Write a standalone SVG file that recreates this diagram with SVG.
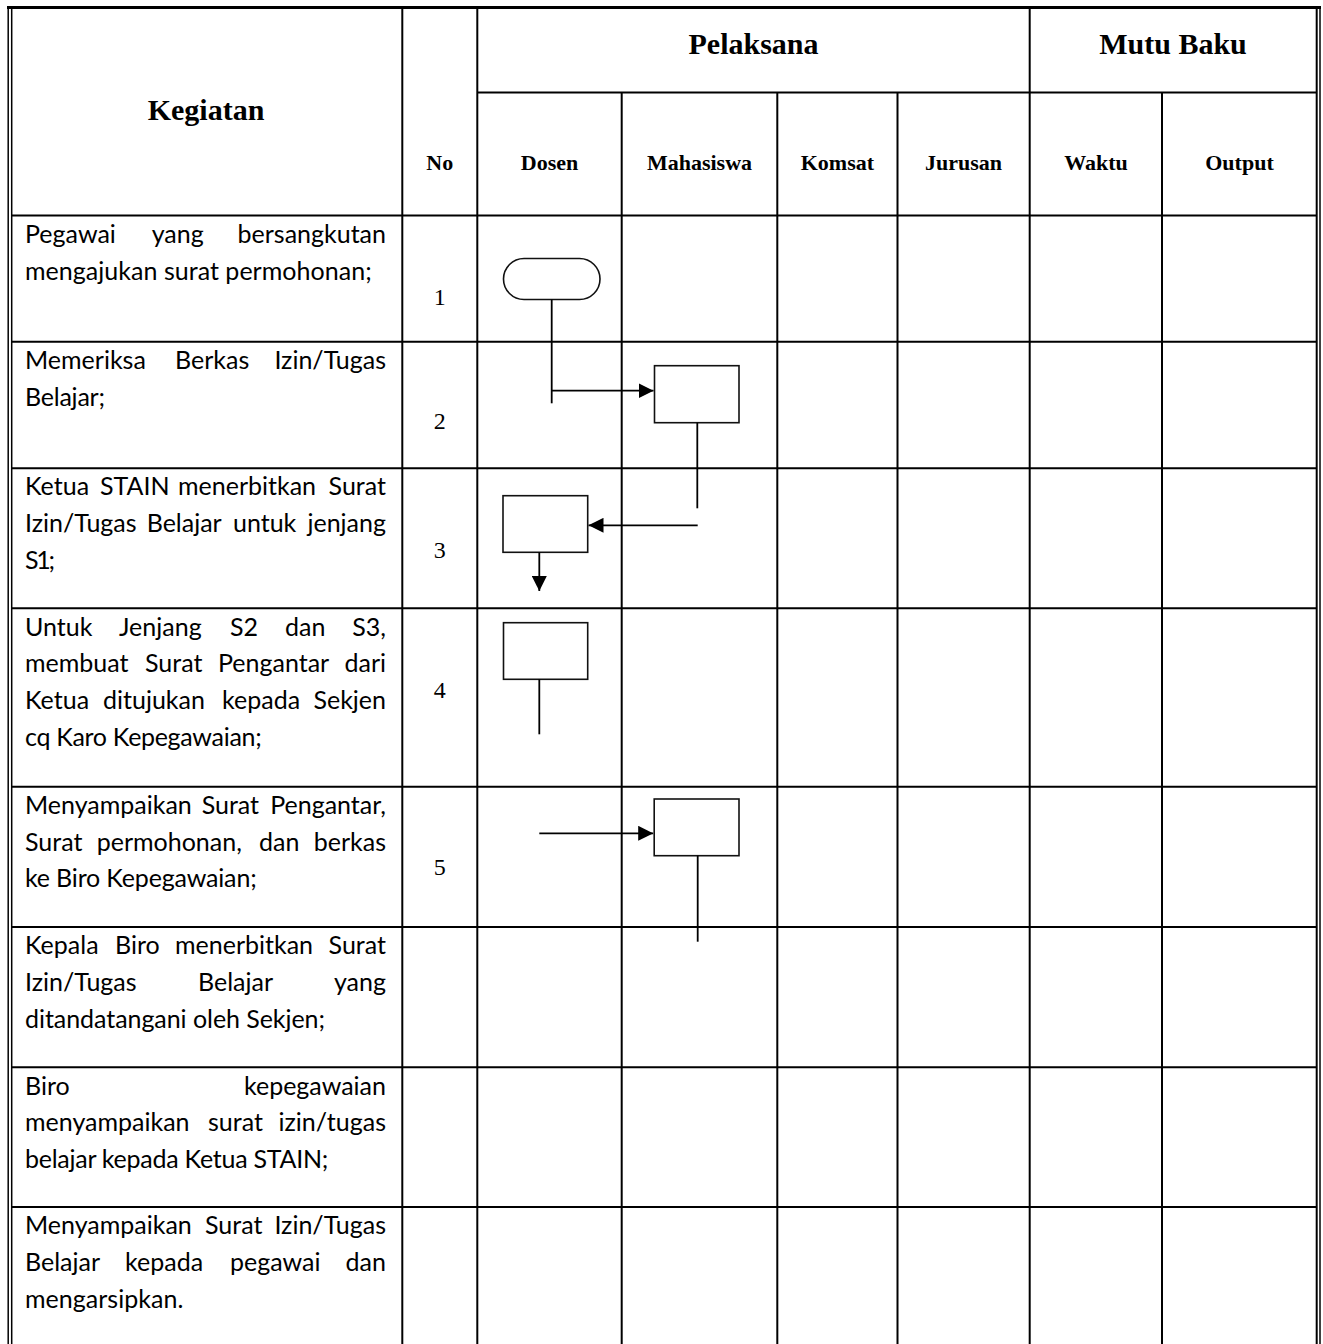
<svg xmlns="http://www.w3.org/2000/svg" width="1323" height="1344" viewBox="0 0 1323 1344">
<style>
.g{stroke:#000;stroke-width:2;fill:none}
.b{font-family:"Lato","Open Sans",sans-serif;font-size:25px;fill:#000}
.r{text-anchor:end}
.h{font-family:"Liberation Serif","DejaVu Serif",serif;font-weight:bold;fill:#000;text-anchor:middle}
.h1{font-size:30px}
.h2{font-size:22px}
.n{font-family:"Liberation Serif","DejaVu Serif",serif;font-size:24px;fill:#000;text-anchor:middle}
.shape{fill:#fff;stroke:#111;stroke-width:1.6}
.c{stroke:#000;stroke-width:1.8;fill:none}
</style>
<defs>
<marker id="ah" markerWidth="15" markerHeight="15" refX="15" refY="7.5" orient="auto" markerUnits="userSpaceOnUse">
<path d="M0,0 L15,7.5 L0,15 z" fill="#000"/>
</marker>
</defs>
<rect width="1323" height="1344" fill="#fff"/>
<g id="grid">
<line x1="7" y1="7.5" x2="1321" y2="7.5" stroke="#000" stroke-width="3"/>
<line x1="8.2" y1="6" x2="8.2" y2="1344" stroke="#000" stroke-width="1.5"/>
<line x1="11.7" y1="9" x2="11.7" y2="1344" stroke="#000" stroke-width="1.5"/>
<line x1="1316.7" y1="9" x2="1316.7" y2="1344" stroke="#000" stroke-width="2"/>
<line x1="1320" y1="6" x2="1320" y2="1344" stroke="#000" stroke-width="1.5"/>
<line class="g" x1="402.3" y1="9" x2="402.3" y2="1344"/>
<line class="g" x1="477.3" y1="9" x2="477.3" y2="1344"/>
<line class="g" x1="621.7" y1="92.5" x2="621.7" y2="1344"/>
<line class="g" x1="777.3" y1="92.5" x2="777.3" y2="1344"/>
<line class="g" x1="897.5" y1="92.5" x2="897.5" y2="1344"/>
<line class="g" x1="1029.7" y1="9" x2="1029.7" y2="1344"/>
<line class="g" x1="1162" y1="92.5" x2="1162" y2="1344"/>
<line class="g" x1="477.3" y1="92.5" x2="1316" y2="92.5"/>
<line class="g" x1="12" y1="215.5" x2="1316" y2="215.5"/>
<line class="g" x1="12" y1="341.7" x2="1316" y2="341.7"/>
<line class="g" x1="12" y1="468.3" x2="1316" y2="468.3"/>
<line class="g" x1="12" y1="608.3" x2="1316" y2="608.3"/>
<line class="g" x1="12" y1="786.7" x2="1316" y2="786.7"/>
<line class="g" x1="12" y1="927" x2="1316" y2="927"/>
<line class="g" x1="12" y1="1067.3" x2="1316" y2="1067.3"/>
<line class="g" x1="12" y1="1207" x2="1316" y2="1207"/>
</g>
<g id="header">
<text class="h h1" x="206" y="120">Kegiatan</text>
<text class="h h1" x="753.5" y="54">Pelaksana</text>
<text class="h h1" x="1173" y="54">Mutu Baku</text>
<text class="h h2" x="439.8" y="170" font-size="21">No</text>
<text class="h h2" x="549.5" y="170">Dosen</text>
<text class="h h2" x="699.5" y="170">Mahasiswa</text>
<text class="h h2" x="837.4" y="170">Komsat</text>
<text class="h h2" x="963.6" y="170">Jurusan</text>
<text class="h h2" x="1096" y="170">Waktu</text>
<text class="h h2" x="1239.5" y="170">Output</text>
</g>
<g id="row1">
<text class="b" x="25" y="243">Pegawai</text><text class="b" x="151.7" y="243">yang</text><text class="b r" x="386" y="243">bersangkutan</text>
<text class="b" x="25" y="279.7" textLength="346.7">mengajukan surat permohonan;</text>
<text class="n" x="439.8" y="305">1</text>
</g>
<g id="row2">
<text class="b" x="25" y="369">Memeriksa</text><text class="b" x="175" y="369">Berkas</text><text class="b r" x="386" y="369">Izin/Tugas</text>
<text class="b" x="25" y="405.7" textLength="80">Belajar;</text>
<text class="n" x="439.8" y="429">2</text>
</g>
<g id="row3">
<text class="b" x="25" y="495.3">Ketua</text><text class="b" x="100" y="495.3">STAIN</text><text class="b" x="178" y="495.3">menerbitkan</text><text class="b r" x="386" y="495.3">Surat</text>
<text class="b" x="25" y="532">Izin/Tugas</text><text class="b" x="146.7" y="532">Belajar</text><text class="b" x="233" y="532">untuk</text><text class="b r" x="386" y="532">jenjang</text>
<text class="b" x="25" y="568.7" textLength="30">S1;</text>
<text class="n" x="439.8" y="557.5">3</text>
</g>
<g id="row4">
<text class="b" x="25" y="635.6">Untuk</text><text class="b" x="119" y="635.6">Jenjang</text><text class="b" x="230" y="635.6">S2</text><text class="b" x="285" y="635.6">dan</text><text class="b r" x="386" y="635.6">S3,</text>
<text class="b" x="25" y="672.3">membuat</text><text class="b" x="145" y="672.3">Surat</text><text class="b" x="218" y="672.3">Pengantar</text><text class="b r" x="386" y="672.3">dari</text>
<text class="b" x="25" y="709">Ketua</text><text class="b" x="103" y="709">ditujukan</text><text class="b" x="222" y="709">kepada</text><text class="b r" x="386" y="709">Sekjen</text>
<text class="b" x="25" y="745.7" textLength="236.7">cq Karo Kepegawaian;</text>
<text class="n" x="439.8" y="697.5">4</text>
</g>
<g id="row5">
<text class="b" x="25" y="814">Menyampaikan</text><text class="b" x="201.7" y="814">Surat</text><text class="b r" x="386" y="814">Pengantar,</text>
<text class="b" x="25" y="850.7">Surat</text><text class="b" x="96.7" y="850.7">permohonan,</text><text class="b" x="259" y="850.7">dan</text><text class="b r" x="386" y="850.7">berkas</text>
<text class="b" x="25" y="887.4" textLength="231.7">ke Biro Kepegawaian;</text>
<text class="n" x="439.8" y="875">5</text>
</g>
<g id="row6">
<text class="b" x="25" y="954.3">Kepala</text><text class="b" x="115" y="954.3">Biro</text><text class="b" x="175" y="954.3">menerbitkan</text><text class="b r" x="386" y="954.3">Surat</text>
<text class="b" x="25" y="991">Izin/Tugas</text><text class="b" x="198" y="991">Belajar</text><text class="b r" x="386" y="991">yang</text>
<text class="b" x="25" y="1027.7" textLength="300">ditandatangani oleh Sekjen;</text>
</g>
<g id="row7">
<text class="b" x="25" y="1094.6">Biro</text><text class="b r" x="386" y="1094.6">kepegawaian</text>
<text class="b" x="25" y="1131.3">menyampaikan</text><text class="b" x="208" y="1131.3">surat</text><text class="b r" x="386" y="1131.3">izin/tugas</text>
<text class="b" x="25" y="1168" textLength="303.3">belajar kepada Ketua STAIN;</text>
</g>
<g id="row8">
<text class="b" x="25" y="1234.3">Menyampaikan</text><text class="b" x="205" y="1234.3">Surat</text><text class="b r" x="386" y="1234.3">Izin/Tugas</text>
<text class="b" x="25" y="1271">Belajar</text><text class="b" x="125" y="1271">kepada</text><text class="b" x="230" y="1271">pegawai</text><text class="b r" x="386" y="1271">dan</text>
<text class="b" x="25" y="1307.7" textLength="158.3">mengarsipkan.</text>
</g>
<g id="node-start"><rect class="shape" x="503.5" y="258.5" width="96.5" height="41" rx="20.5" ry="20.5"/></g>
<g id="node-periksa"><rect class="shape" x="654.5" y="365.7" width="84.5" height="57"/></g>
<g id="node-terbit"><rect class="shape" x="503" y="495.7" width="84.7" height="56.6"/></g>
<g id="node-pengantar"><rect class="shape" x="503.5" y="622.7" width="84.2" height="56.6"/></g>
<g id="node-sampaikan"><rect class="shape" x="654.2" y="799" width="84.8" height="56.7"/></g>
<g id="connectors">
<path class="c" d="M551.7,299.5 V403.3"/>
<path class="c" d="M551,390.7 H653.5" marker-end="url(#ah)"/>
<path class="c" d="M697.3,422.7 V508.3"/>
<path class="c" d="M697.7,525.3 H588.5" marker-end="url(#ah)"/>
<path class="c" d="M539.3,552.3 V591" marker-end="url(#ah)"/>
<path class="c" d="M539.3,679.3 V734.3"/>
<path class="c" d="M539.3,833.3 H653.2" marker-end="url(#ah)"/>
<path class="c" d="M697.7,855.7 V941.7"/>
</g>
</svg>
